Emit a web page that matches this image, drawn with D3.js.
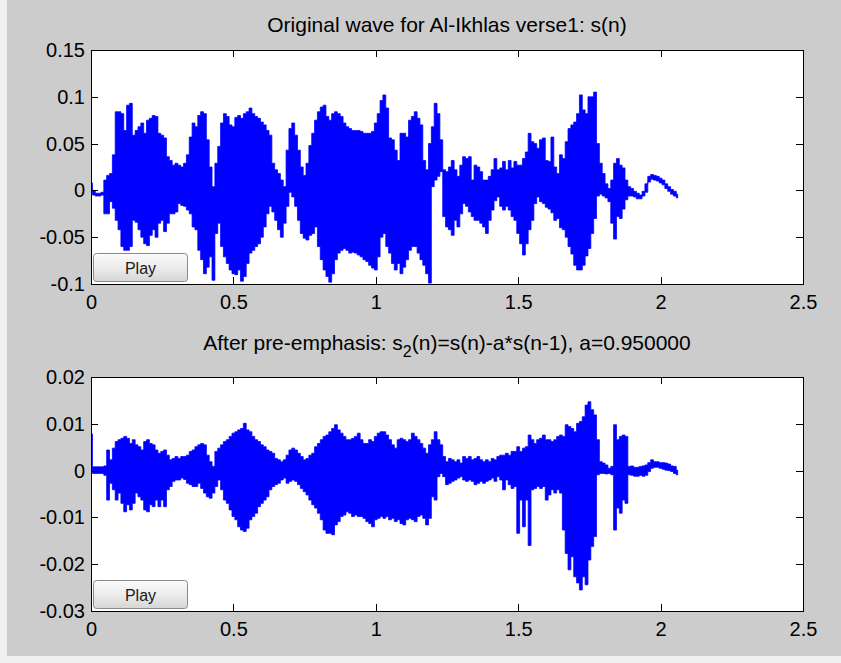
<!DOCTYPE html>
<html>
<head>
<meta charset="utf-8">
<script src="https://cdn.jsdelivr.net/npm/d3@7"></script>
<style>
  body { margin: 0; background: #ffffff; }
  svg { display: block; font-family: "Liberation Sans", Arial, sans-serif; }
</style>
</head>
<body>
<div id="chart"></div>
<script>
// sample spacing of the envelope arrays (seconds)
const dt = 0.01;

const xTicks = [0, 0.5, 1, 1.5, 2, 2.5];
const topTicks = [-0.1, -0.05, 0, 0.05, 0.1, 0.15];
const botTicks = [-0.03, -0.02, -0.01, 0, 0.01, 0.02];

// original wave s(n): upper / lower envelope every 10 ms, t = 0 .. 2.06 s
const topMax = [
  0.008, 0.000, -0.003, -0.003, -0.002, 0.011, 0.016, 0.018, 0.038, 0.084,
  0.084, 0.082, 0.064, 0.091, 0.093, 0.059, 0.064, 0.068, 0.072, 0.061,
  0.075, 0.077, 0.080, 0.079, 0.061, 0.059, 0.056, 0.036, 0.032, 0.027,
  0.029, 0.027, 0.025, 0.029, 0.038, 0.057, 0.072, 0.068, 0.080, 0.084,
  0.082, 0.054, 0.025, 0.004, 0.029, 0.047, 0.072, 0.082, 0.079, 0.070,
  0.068, 0.078, 0.080, 0.077, 0.082, 0.084, 0.088, 0.082, 0.079, 0.077,
  0.073, 0.070, 0.064, 0.059, 0.029, 0.022, 0.018, 0.011, 0.004, 0.043,
  0.066, 0.072, 0.059, 0.043, 0.025, 0.016, 0.029, 0.048, 0.061, 0.075,
  0.084, 0.089, 0.091, 0.079, 0.075, 0.082, 0.084, 0.082, 0.079, 0.072,
  0.068, 0.066, 0.064, 0.064, 0.064, 0.063, 0.061, 0.061, 0.061, 0.063,
  0.072, 0.082, 0.096, 0.102, 0.088, 0.056, 0.054, 0.043, 0.032, 0.061,
  0.061, 0.057, 0.075, 0.079, 0.084, 0.077, 0.070, 0.032, 0.022, 0.050,
  0.068, 0.093, 0.082, 0.054, 0.022, 0.020, 0.025, 0.032, 0.022, 0.015,
  0.027, 0.036, 0.034, 0.036, 0.011, 0.027, 0.025, 0.020, 0.011, 0.011,
  0.015, 0.022, 0.034, 0.022, 0.024, 0.031, 0.022, 0.032, 0.024, 0.031,
  0.027, 0.027, 0.034, 0.041, 0.061, 0.052, 0.050, 0.045, 0.054, 0.056,
  0.032, 0.031, 0.057, 0.025, 0.018, 0.038, 0.034, 0.052, 0.066, 0.070,
  0.073, 0.082, 0.102, 0.086, 0.082, 0.100, 0.100, 0.105, 0.050, 0.029,
  0.018, 0.007, 0.002, 0.011, 0.029, 0.034, 0.027, 0.024, 0.011, 0.004,
  0.002, -0.001, -0.003, -0.005, -0.001, 0.007, 0.015, 0.017, 0.016, 0.015,
  0.013, 0.011, 0.007, 0.004, 0.001, -0.001, -0.004
];
const topMin = [
  0.002, -0.005, -0.006, -0.006, -0.005, -0.025, -0.025, -0.012, -0.019, -0.032,
  -0.042, -0.060, -0.064, -0.064, -0.060, -0.032, -0.034, -0.042, -0.050, -0.057,
  -0.059, -0.048, -0.042, -0.050, -0.035, -0.032, -0.044, -0.035, -0.025, -0.025,
  -0.023, -0.014, -0.016, -0.017, -0.021, -0.025, -0.039, -0.042, -0.064, -0.074,
  -0.089, -0.082, -0.071, -0.096, -0.046, -0.035, -0.060, -0.071, -0.078, -0.085,
  -0.089, -0.090, -0.085, -0.097, -0.092, -0.078, -0.067, -0.064, -0.060, -0.057,
  -0.050, -0.039, -0.025, -0.017, -0.023, -0.032, -0.042, -0.050, -0.035, -0.017,
  -0.002, -0.007, -0.017, -0.032, -0.046, -0.051, -0.053, -0.048, -0.046, -0.039,
  -0.060, -0.074, -0.085, -0.092, -0.098, -0.089, -0.074, -0.067, -0.064, -0.062,
  -0.064, -0.067, -0.066, -0.067, -0.069, -0.071, -0.074, -0.076, -0.080, -0.083,
  -0.085, -0.071, -0.050, -0.046, -0.060, -0.067, -0.078, -0.085, -0.078, -0.089,
  -0.082, -0.074, -0.064, -0.060, -0.060, -0.067, -0.074, -0.080, -0.089, -0.099,
  0.004, 0.011, 0.015, 0.020, -0.028, -0.039, -0.042, -0.048, -0.032, -0.039,
  -0.025, -0.014, -0.017, -0.023, -0.028, -0.032, -0.032, -0.035, -0.039, -0.046,
  -0.032, -0.021, -0.011, -0.007, -0.017, -0.021, -0.017, -0.021, -0.028, -0.032,
  -0.046, -0.057, -0.069, -0.057, -0.042, -0.032, -0.014, -0.007, -0.012, -0.014,
  -0.018, -0.020, -0.024, -0.032, -0.030, -0.040, -0.042, -0.050, -0.060, -0.068,
  -0.080, -0.085, -0.085, -0.080, -0.070, -0.062, -0.046, -0.030, -0.006, -0.004,
  -0.006, -0.008, -0.012, -0.035, -0.052, -0.028, -0.030, -0.020, -0.010, -0.006,
  -0.006, -0.007, -0.009, -0.009, -0.006, -0.002, 0.009, 0.012, 0.011, 0.010,
  0.008, 0.006, 0.002, -0.001, -0.004, -0.006, -0.008
];

// after pre-emphasis s2(n): upper / lower envelope every 10 ms
const botMax = [
  0.0078, 0.0008, 0.0008, 0.0008, 0.0008, 0.0010, 0.0044, 0.0023, 0.0048, 0.0062,
  0.0066, 0.0069, 0.0073, 0.0069, 0.0058, 0.0066, 0.0055, 0.0051, 0.0044, 0.0062,
  0.0066, 0.0058, 0.0055, 0.0044, 0.0037, 0.0041, 0.0044, 0.0033, 0.0023, 0.0026,
  0.0030, 0.0026, 0.0030, 0.0030, 0.0033, 0.0041, 0.0044, 0.0051, 0.0055, 0.0058,
  0.0055, 0.0033, 0.0019, 0.0009, 0.0041, 0.0048, 0.0055, 0.0062, 0.0066, 0.0073,
  0.0080, 0.0083, 0.0087, 0.0090, 0.0101, 0.0087, 0.0083, 0.0073, 0.0066, 0.0062,
  0.0055, 0.0051, 0.0044, 0.0041, 0.0037, 0.0026, 0.0023, 0.0019, 0.0023, 0.0033,
  0.0044, 0.0048, 0.0044, 0.0037, 0.0030, 0.0023, 0.0026, 0.0033, 0.0037, 0.0051,
  0.0058, 0.0066, 0.0073, 0.0076, 0.0083, 0.0090, 0.0098, 0.0087, 0.0080, 0.0073,
  0.0066, 0.0066, 0.0069, 0.0073, 0.0080, 0.0066, 0.0058, 0.0058, 0.0066, 0.0062,
  0.0073, 0.0080, 0.0083, 0.0083, 0.0076, 0.0066, 0.0055, 0.0048, 0.0066, 0.0069,
  0.0066, 0.0062, 0.0066, 0.0080, 0.0073, 0.0066, 0.0058, 0.0048, 0.0037, 0.0055,
  0.0066, 0.0083, 0.0066, 0.0055, 0.0030, 0.0019, 0.0026, 0.0023, 0.0019, 0.0023,
  0.0016, 0.0030, 0.0026, 0.0030, 0.0023, 0.0026, 0.0030, 0.0023, 0.0019, 0.0023,
  0.0019, 0.0026, 0.0023, 0.0030, 0.0033, 0.0033, 0.0037, 0.0033, 0.0041, 0.0041,
  0.0051, 0.0041, 0.0048, 0.0051, 0.0076, 0.0066, 0.0058, 0.0066, 0.0069, 0.0076,
  0.0066, 0.0066, 0.0062, 0.0066, 0.0073, 0.0076, 0.0073, 0.0098, 0.0094, 0.0090,
  0.0083, 0.0101, 0.0105, 0.0115, 0.0140, 0.0147, 0.0130, 0.0119, 0.0066, 0.0019,
  0.0016, 0.0012, 0.0005, 0.0009, 0.0098, 0.0066, 0.0073, 0.0076, 0.0073, 0.0009,
  0.0010, 0.0007, 0.0007, 0.0009, 0.0010, 0.0012, 0.0017, 0.0023, 0.0019, 0.0019,
  0.0017, 0.0017, 0.0016, 0.0014, 0.0010, 0.0009, 0.0001
];
const botMin = [
  -0.0002, -0.0006, -0.0006, -0.0006, -0.0006, -0.0010, -0.0063, -0.0027, -0.0041, -0.0063,
  -0.0048, -0.0070, -0.0088, -0.0073, -0.0084, -0.0070, -0.0048, -0.0056, -0.0063, -0.0084,
  -0.0088, -0.0073, -0.0077, -0.0063, -0.0077, -0.0063, -0.0077, -0.0041, -0.0034, -0.0023,
  -0.0020, -0.0020, -0.0016, -0.0019, -0.0027, -0.0030, -0.0034, -0.0034, -0.0027, -0.0038,
  -0.0048, -0.0056, -0.0059, -0.0048, -0.0034, -0.0020, -0.0041, -0.0063, -0.0070, -0.0084,
  -0.0098, -0.0105, -0.0120, -0.0127, -0.0130, -0.0123, -0.0105, -0.0098, -0.0091, -0.0077,
  -0.0070, -0.0063, -0.0056, -0.0041, -0.0034, -0.0030, -0.0027, -0.0020, -0.0016, -0.0027,
  -0.0023, -0.0020, -0.0023, -0.0030, -0.0038, -0.0045, -0.0052, -0.0063, -0.0073, -0.0080,
  -0.0091, -0.0105, -0.0127, -0.0134, -0.0134, -0.0137, -0.0116, -0.0109, -0.0098, -0.0095,
  -0.0088, -0.0091, -0.0098, -0.0095, -0.0098, -0.0098, -0.0102, -0.0109, -0.0113, -0.0120,
  -0.0105, -0.0102, -0.0098, -0.0102, -0.0098, -0.0105, -0.0102, -0.0109, -0.0105, -0.0113,
  -0.0116, -0.0105, -0.0102, -0.0105, -0.0109, -0.0098, -0.0095, -0.0102, -0.0116, -0.0102,
  -0.0056, -0.0063, -0.0013, -0.0006, -0.0013, -0.0030, -0.0027, -0.0023, -0.0020, -0.0016,
  -0.0013, -0.0020, -0.0023, -0.0020, -0.0023, -0.0030, -0.0027, -0.0023, -0.0027, -0.0023,
  -0.0020, -0.0016, -0.0023, -0.0013, -0.0020, -0.0041, -0.0020, -0.0030, -0.0038, -0.0034,
  -0.0134, -0.0063, -0.0120, -0.0063, -0.0160, -0.0041, -0.0038, -0.0034, -0.0038, -0.0034,
  -0.0063, -0.0052, -0.0041, -0.0048, -0.0041, -0.0048, -0.0127, -0.0177, -0.0212, -0.0184,
  -0.0227, -0.0240, -0.0255, -0.0227, -0.0244, -0.0191, -0.0162, -0.0141, -0.0009, -0.0006,
  -0.0006, -0.0007, -0.0006, -0.0009, -0.0127, -0.0080, -0.0091, -0.0063, -0.0070, -0.0009,
  -0.0010, -0.0012, -0.0012, -0.0010, -0.0012, -0.0010, -0.0002, 0.0005, 0.0007, 0.0007,
  0.0005, 0.0003, 0.0001, 0.0000, -0.0002, -0.0006, -0.0009
];

const W = 841, H = 663;
const svg = d3.select("#chart").append("svg")
    .attr("width", W)
    .attr("height", H);

// window frame, then figure background
svg.append("rect")
    .attr("x", 0).attr("y", 0)
    .attr("width", W).attr("height", H)
    .attr("fill", "#f0f0f0");
svg.append("rect")
    .attr("x", 7).attr("y", 0)
    .attr("width", W - 7).attr("height", H - 7)
    .attr("fill", "#cccccc");

const defs = svg.append("defs");
const grad = defs.append("linearGradient")
    .attr("id", "btnGrad")
    .attr("x1", 0).attr("y1", 0).attr("x2", 0).attr("y2", 1);
grad.append("stop").attr("offset", "0%").attr("stop-color", "#fbfbfb");
grad.append("stop").attr("offset", "50%").attr("stop-color", "#ececec");
grad.append("stop").attr("offset", "100%").attr("stop-color", "#d6d6d6");

const fmt = d => String(+d.toFixed(3));

function drawPanel(id, top, bottom, yDomain, yTicks, hi, lo) {
    const x = d3.scaleLinear().domain([0, 2.5]).range([91, 803]);
    const y = d3.scaleLinear().domain(yDomain).range([bottom, top]);
    const g = svg.append("g");

    // white plot area
    g.append("rect")
        .attr("x", x(0)).attr("y", top)
        .attr("width", x(2.5) - x(0)).attr("height", bottom - top)
        .attr("fill", "#ffffff");

    defs.append("clipPath").attr("id", "clip" + id)
      .append("rect")
        .attr("x", x(0)).attr("y", top)
        .attr("width", x(2.5) - x(0)).attr("height", bottom - top);

    const data = hi.map((v, i) => ({t: i * dt, hi: v, lo: lo[i]}));
    const area = d3.area()
        .x(d => x(d.t))
        .y0(d => y(d.lo))
        .y1(d => y(d.hi))
        .curve(d3.curveStep);

    g.append("path")
        .datum(data)
        .attr("clip-path", "url(#clip" + id + ")")
        .attr("d", area)
        .attr("fill", "#0000ff")
        .attr("stroke", "#0000ff")
        .attr("stroke-width", 0.8);

    // axes: ticks point inward on all four sides
    g.append("g")
        .attr("transform", `translate(0,${bottom})`)
        .call(d3.axisBottom(x).tickValues(xTicks).tickFormat(fmt).tickSize(-7).tickPadding(11));
    g.append("g")
        .attr("transform", `translate(${x(0)},0)`)
        .call(d3.axisLeft(y).tickValues(yTicks).tickFormat(fmt).tickSize(-7).tickPadding(6));
    g.append("g")
        .attr("transform", `translate(0,${top})`)
        .call(d3.axisTop(x).tickValues(xTicks).tickFormat("").tickSize(-7));
    g.append("g")
        .attr("transform", `translate(${x(2.5)},0)`)
        .call(d3.axisRight(y).tickValues(yTicks).tickFormat("").tickSize(-7));

    g.selectAll(".domain").remove();
    g.selectAll(".tick line").attr("stroke", "#000").attr("shape-rendering", "crispEdges");
    g.selectAll(".tick text")
        .style("font-family", "'Liberation Sans', Arial, sans-serif")
        .style("font-size", "20px")
        .attr("fill", "#000");

    // box
    g.append("rect")
        .attr("x", x(0) + 0.5).attr("y", top + 0.5)
        .attr("width", x(2.5) - x(0)).attr("height", bottom - top)
        .attr("fill", "none")
        .attr("stroke", "#000")
        .attr("stroke-width", 1);

    // Play button
    const b = g.append("g").attr("transform", `translate(93,${bottom - 31})`);
    b.append("rect")
        .attr("x", 0.5).attr("y", 0.5)
        .attr("width", 94).attr("height", 28)
        .attr("rx", 3).attr("ry", 3)
        .attr("fill", "url(#btnGrad)")
        .attr("stroke", "#8a8a8a");
    b.append("text")
        .attr("x", 47.5).attr("y", 21)
        .attr("text-anchor", "middle")
        .style("font-size", "16px")
        .attr("fill", "#1a1a1a")
        .text("Play");

    return {x, y};
}

drawPanel("a", 50, 284, [-0.1, 0.15], topTicks, topMax, topMin);
drawPanel("b", 377, 611, [-0.03, 0.02], botTicks, botMax, botMin);

// titles
svg.append("text")
    .attr("x", 447).attr("y", 32)
    .attr("text-anchor", "middle")
    .style("font-size", "21px")
    .attr("fill", "#000")
    .text("Original wave for Al-Ikhlas verse1: s(n)");

const t2 = svg.append("text")
    .attr("x", 447).attr("y", 350)
    .attr("text-anchor", "middle")
    .style("font-size", "21px")
    .attr("fill", "#000");
t2.append("tspan").text("After pre-emphasis: s");
t2.append("tspan").attr("dy", 7).style("font-size", "16px").text("2");
t2.append("tspan").attr("dy", -7).text("(n)=s(n)-a*s(n-1), a=0.950000");
</script>
</body>
</html>
